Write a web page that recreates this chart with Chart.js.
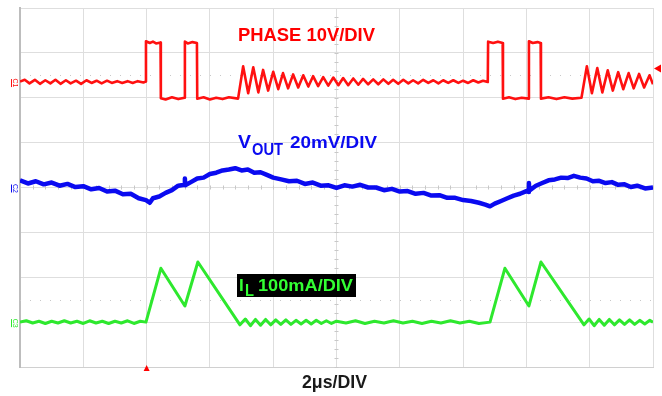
<!DOCTYPE html>
<html>
<head>
<meta charset="utf-8">
<script src="https://cdn.jsdelivr.net/npm/chart.js@4.4.1/dist/chart.umd.min.js"></script>
<style>
  html, body { margin: 0; padding: 0; background: #ffffff; }
  #scope { display: block; }
</style>
</head>
<body>
<canvas id="scope" width="662" height="396"></canvas>
<script>
// time axis: 2us per division, 10 divisions
const timeTicks = [0, 2, 4, 6, 8, 10, 12, 14, 16, 18, 20];
// vertical axis in screen divisions (8 divisions)
const divTicks = [0, 1, 2, 3, 4, 5, 6, 7, 8];

// [time us, screen div]
const phasePts = [
  [0, 6.36], [0.15, 6.40], [0.3, 6.32], [0.47, 6.40], [0.63, 6.31], [0.8, 6.39], [0.96, 6.32],
  [1.12, 6.40], [1.28, 6.31], [1.45, 6.39], [1.6, 6.32], [1.77, 6.38], [1.93, 6.31], [2.1, 6.39],
  [2.26, 6.33], [2.42, 6.38], [2.58, 6.32], [2.75, 6.38], [2.9, 6.33], [3.07, 6.37], [3.23, 6.33],
  [3.4, 6.37], [3.56, 6.33], [3.72, 6.37], [3.9, 6.34], [3.97, 6.36],
  [3.98, 7.26], [4.1, 7.22], [4.2, 7.25], [4.3, 7.21], [4.44, 7.23],
  [4.45, 5.99], [4.6, 5.96], [4.8, 6.01], [5.0, 5.97], [5.2, 6.0],
  [5.21, 7.25], [5.3, 7.21], [5.45, 7.24], [5.59, 7.22],
  [5.6, 5.98], [5.8, 6.01], [6.0, 5.96], [6.2, 6.0], [6.4, 5.97], [6.6, 6.01], [6.89, 5.98],
  [7.05, 6.70], [7.21, 6.10], [7.37, 6.68], [7.53, 6.12], [7.68, 6.62], [7.84, 6.16],
  [8.00, 6.58], [8.16, 6.19], [8.31, 6.55], [8.47, 6.21], [8.63, 6.52], [8.79, 6.23],
  [8.95, 6.50], [9.11, 6.25], [9.26, 6.48], [9.42, 6.26], [9.58, 6.46], [9.74, 6.27],
  [9.90, 6.45], [10.06, 6.28], [10.21, 6.44], [10.37, 6.28], [10.53, 6.43], [10.69, 6.29],
  [10.84, 6.42], [11.00, 6.30], [11.16, 6.41], [11.32, 6.30], [11.48, 6.41], [11.64, 6.31],
  [11.79, 6.40], [11.95, 6.31], [12.11, 6.40], [12.27, 6.32], [12.42, 6.39], [12.58, 6.32],
  [12.74, 6.40], [12.90, 6.33], [13.06, 6.39], [13.22, 6.32], [13.37, 6.39], [13.53, 6.33],
  [13.69, 6.39], [13.85, 6.33], [14.00, 6.38], [14.16, 6.33], [14.32, 6.39], [14.48, 6.34],
  [14.63, 6.38], [14.78, 6.35],
  [14.79, 7.25], [14.95, 7.22], [15.1, 7.25], [15.25, 7.22],
  [15.26, 5.98], [15.45, 6.01], [15.65, 5.97], [15.85, 6.0], [16.07, 5.98],
  [16.08, 7.26], [16.2, 7.22], [16.35, 7.24], [16.45, 7.22],
  [16.46, 5.98], [16.7, 6.01], [16.95, 5.97], [17.2, 6.01], [17.45, 5.98], [17.74, 6.0],
  [17.91, 6.70], [18.07, 6.10], [18.24, 6.66], [18.40, 6.12], [18.57, 6.61], [18.73, 6.16],
  [18.90, 6.57], [19.06, 6.19], [19.23, 6.55], [19.39, 6.21], [19.56, 6.53], [19.72, 6.23],
  [19.89, 6.50], [20.0, 6.30]
];

const voutPts = [
  [0, 4.16], [0.25, 4.09], [0.5, 4.14], [0.75, 4.07], [1.0, 4.11], [1.25, 4.04], [1.5, 4.08],
  [1.75, 4.01], [2.0, 4.03], [2.25, 3.96], [2.5, 3.99], [2.75, 3.91], [3.0, 3.93], [3.25, 3.85],
  [3.5, 3.86], [3.75, 3.76], [3.98, 3.72], [4.1, 3.66], [4.2, 3.76], [4.4, 3.80], [4.6, 3.88],
  [4.8, 3.94], [5.0, 4.04], [5.2, 4.06], [5.21, 4.20], [5.22, 4.05], [5.4, 4.12], [5.6, 4.20],
  [5.8, 4.22], [6.0, 4.30], [6.2, 4.33], [6.4, 4.38], [6.6, 4.40], [6.8, 4.43], [7.0, 4.38],
  [7.2, 4.40], [7.4, 4.33], [7.6, 4.34], [7.8, 4.28], [8.0, 4.22], [8.25, 4.18], [8.5, 4.14],
  [8.75, 4.15], [9.0, 4.08], [9.25, 4.11], [9.5, 4.04], [9.75, 4.05], [10.0, 3.99], [10.25, 4.05],
  [10.5, 4.02], [10.75, 4.06], [11.0, 4.0], [11.25, 4.0], [11.5, 3.94], [11.75, 3.97], [12.0, 3.91],
  [12.25, 3.92], [12.5, 3.86], [12.75, 3.88], [13.0, 3.82], [13.25, 3.83], [13.5, 3.77],
  [13.75, 3.77], [14.0, 3.72], [14.25, 3.70], [14.5, 3.66], [14.7, 3.62], [14.85, 3.58],
  [15.0, 3.64], [15.2, 3.70], [15.4, 3.76], [15.6, 3.82], [15.8, 3.86], [16.0, 3.92],
  [16.07, 3.90], [16.08, 4.10], [16.09, 3.93], [16.3, 4.04], [16.5, 4.10], [16.7, 4.16],
  [16.9, 4.18], [17.1, 4.22], [17.3, 4.21], [17.5, 4.26], [17.7, 4.22], [17.9, 4.20],
  [18.1, 4.14], [18.3, 4.15], [18.5, 4.10], [18.7, 4.12], [18.9, 4.06], [19.1, 4.07],
  [19.3, 4.01], [19.5, 4.04], [19.75, 3.98], [20.0, 4.00]
];

const ilPts = [
  [0, 1.0], [0.2, 1.03], [0.4, 0.98], [0.6, 1.02], [0.8, 0.97], [1.0, 1.02], [1.2, 0.98],
  [1.4, 1.03], [1.6, 0.98], [1.8, 1.02], [2.0, 0.97], [2.2, 1.03], [2.4, 0.98], [2.6, 1.02],
  [2.8, 0.97], [3.0, 1.02], [3.2, 0.98], [3.4, 1.03], [3.6, 0.97], [3.8, 1.02], [3.98, 1.0],
  [4.45, 2.20], [5.21, 1.36], [5.62, 2.34], [6.95, 0.94],
  [7.12, 1.07], [7.28, 0.92], [7.44, 1.06], [7.60, 0.93], [7.76, 1.06], [7.92, 0.94],
  [8.08, 1.05], [8.24, 0.95], [8.40, 1.05], [8.56, 0.95], [8.72, 1.04], [8.88, 0.96],
  [9.04, 1.04], [9.20, 0.96], [9.36, 1.04], [9.52, 0.97], [9.68, 1.03], [9.84, 0.97],
  [10.0, 1.02], [10.3, 0.98], [10.6, 1.03], [10.9, 0.97], [11.2, 1.02], [11.5, 0.98],
  [11.8, 1.03], [12.1, 0.98], [12.4, 1.02], [12.7, 0.97], [13.0, 1.02], [13.3, 0.98],
  [13.6, 1.03], [13.9, 0.98], [14.2, 1.02], [14.5, 0.97], [14.85, 1.0],
  [15.32, 2.20], [16.08, 1.36], [16.46, 2.34], [17.82, 0.94],
  [17.98, 1.07], [18.14, 0.92], [18.30, 1.06], [18.46, 0.93], [18.62, 1.06], [18.78, 0.94],
  [18.94, 1.05], [19.10, 0.95], [19.26, 1.05], [19.42, 0.95], [19.58, 1.04], [19.74, 0.96],
  [19.90, 1.04], [20.0, 1.0]
];

const RED = '#ff1010';
const BLUE = '#0a0af0';
const GREEN = '#2ee82e';
const GRID = '#dedede';

// turn [t, div] pairs into chart points
function toXY(pts) {
  return pts.map(p => ({ x: p[0], y: p[1] }));
}

// draw text squeezed/stretched to a width
function drawText(ctx, text, x, y, size, color, width) {
  ctx.save();
  ctx.font = 'bold ' + size + 'px "Liberation Sans", Arial, sans-serif';
  ctx.fillStyle = color;
  ctx.textBaseline = 'alphabetic';
  const w = ctx.measureText(text).width;
  const sx = width ? width / w : 1;
  ctx.translate(x, y);
  ctx.scale(sx, 1);
  ctx.fillText(text, 0, 0);
  ctx.restore();
}

// scope decorations: center ticks, dotted levels, markers and labels
const scopeDecor = {
  id: 'scopeDecor',
  beforeDatasetsDraw(chart) {
    const ctx = chart.ctx;
    const xs = chart.scales.x;
    const ys = chart.scales.y;
    ctx.save();
    // left edge of the graticule is a bit darker
    ctx.fillStyle = '#bdbdbd';
    ctx.fillRect(xs.left - 1, ys.top, 2, ys.bottom - ys.top);
    ctx.fillStyle = '#c8c8c8';
    // minor ticks on the center axes
    for (let t = 0; t <= 20; t += 0.4) {
      const px = xs.getPixelForValue(t);
      ctx.fillRect(Math.round(px), ys.getPixelForValue(4) - 2, 1, 4);
    }
    for (let d = 0; d <= 8; d += 0.2) {
      const py = ys.getPixelForValue(d);
      ctx.fillRect(xs.getPixelForValue(10) - 2, Math.round(py), 4, 1);
    }
    // dotted reference levels
    ctx.strokeStyle = '#c8c8c8';
    ctx.setLineDash([1, 9]);
    ctx.lineWidth = 1;
    [6.5, 1.5].forEach(lv => {
      const py = Math.round(ys.getPixelForValue(lv)) + 0.5;
      ctx.beginPath();
      ctx.moveTo(xs.left, py);
      ctx.lineTo(xs.right, py);
      ctx.stroke();
    });
    ctx.restore();
  },
  afterDraw(chart) {
    const ctx = chart.ctx;
    const xs = chart.scales.x;
    const ys = chart.scales.y;

    // channel labels
    drawText(ctx, 'PHASE 10V/DIV', 238, 41, 18, '#ff0000', 137);
    drawText(ctx, 'V', 238, 148, 18, BLUE, 13);
    drawText(ctx, 'OUT', 252, 155, 17, BLUE, 31);
    drawText(ctx, '20mV/DIV', 290, 148, 17, BLUE, 87);

    ctx.fillStyle = '#000000';
    ctx.fillRect(237, 274, 119, 23);
    drawText(ctx, 'I', 239, 291, 17, '#33ff33');
    drawText(ctx, 'L', 245, 296, 17, '#33ff33', 9);
    drawText(ctx, '100mA/DIV', 258, 291, 17, '#33ff33', 95);

    drawText(ctx, '2\u03bcs/DIV', 302, 388, 18, '#1a1a1a', 65);

    // channel ground markers on the left edge
    const marks = [['C1', 6.35, RED], ['C2', 4.0, BLUE], ['C3', 1.0, GREEN]];
    marks.forEach(m => {
      const py = ys.getPixelForValue(m[1]);
      ctx.save();
      ctx.translate(13, py + 1);
      ctx.rotate(Math.PI / 2);
      ctx.font = '7px "Liberation Sans", Arial, sans-serif';
      ctx.fillStyle = m[2];
      ctx.textAlign = 'center';
      ctx.fillText(m[0], 0, 0);
      ctx.fillRect(-4, 1, 8, 1);
      ctx.restore();
    });

    // trigger position marker under the grid
    const tx = xs.getPixelForValue(4);
    ctx.fillStyle = '#ff0000';
    ctx.beginPath();
    ctx.moveTo(tx, ys.bottom - 2);
    ctx.lineTo(tx - 3, ys.bottom + 4);
    ctx.lineTo(tx + 3, ys.bottom + 4);
    ctx.closePath();
    ctx.fill();

    // trigger level arrow on the right edge
    const ly = ys.getPixelForValue(6.65);
    ctx.beginPath();
    ctx.moveTo(xs.right + 1, ly);
    ctx.lineTo(xs.right + 8, ly - 4);
    ctx.lineTo(xs.right + 8, ly + 4);
    ctx.closePath();
    ctx.fill();
  }
};

function initChart() {
  const ctx = document.getElementById('scope').getContext('2d');
  new Chart(ctx, {
    type: 'line',
    data: {
      datasets: [
        { label: 'PHASE', data: toXY(phasePts), borderColor: RED, borderWidth: 2.6 },
        { label: 'VOUT', data: toXY(voutPts), borderColor: BLUE, borderWidth: 4.5 },
        { label: 'IL', data: toXY(ilPts), borderColor: GREEN, borderWidth: 3 }
      ]
    },
    options: {
      responsive: false,
      animation: false,
      elements: { point: { radius: 0 }, line: { tension: 0, borderJoinStyle: 'round' } },
      layout: { padding: { left: 20, right: 9, top: 8, bottom: 29 } },
      plugins: { legend: { display: false }, tooltip: { enabled: false } },
      scales: {
        x: {
          type: 'linear',
          min: timeTicks[0],
          max: timeTicks[timeTicks.length - 1],
          afterBuildTicks: axis => { axis.ticks = timeTicks.map(v => ({ value: v })); },
          ticks: { display: false },
          grid: { color: GRID, drawTicks: false, lineWidth: 1 },
          border: { color: '#d0d0d0', width: 1 }
        },
        y: {
          type: 'linear',
          min: divTicks[0],
          max: divTicks[divTicks.length - 1],
          afterBuildTicks: axis => { axis.ticks = divTicks.map(v => ({ value: v })); },
          ticks: { display: false },
          grid: { color: GRID, drawTicks: false, lineWidth: 1 },
          border: { color: '#bdbdbd', width: 2 }
        }
      }
    },
    plugins: [scopeDecor]
  });
}

document.addEventListener('DOMContentLoaded', initChart);
</script>
</body>
</html>
